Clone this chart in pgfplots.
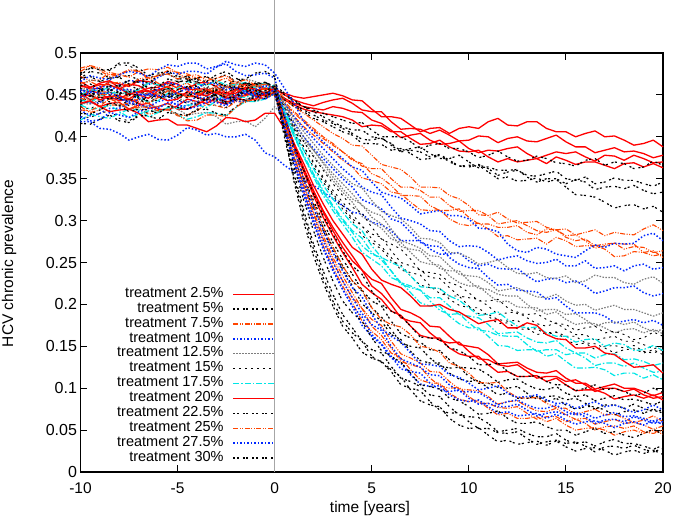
\documentclass[border=0pt]{standalone}
\usepackage{pgfplots}
\usepackage{pgfplotstable}
\usepackage{fontspec}
\setmainfont{Liberation Sans}
\pgfplotsset{compat=1.18}
\definecolor{cred}{RGB}{255,0,0}
\definecolor{corange}{RGB}{255,69,0}
\definecolor{cblue}{RGB}{0,40,255}
\definecolor{cgray}{RGB}{125,125,125}
\definecolor{ccyan}{RGB}{0,230,230}

\pgfplotstableread{
t a b c d
-10 448 462 440 452
-9.5 455 457 442 444
-9 452 458 436 447
-8.5 445 466 440 448
-8 446 463 441 443
-7.5 451 460 433 445
-7 450 467 438 440
-6.5 446 466 440 434
-6 455 461 433 436
-5.5 457 464 432 440
-5 451 458 437 433
-4.5 451 457 445 433
-4 447 464 442 438
-3.5 444 465 440 445
-3 452 460 446 442
-2.5 460 452 442 439
-2 456 457 443 447
-1.5 451 463 451 443
-1 453 462 449 445
-0.5 458 458 445 451
0 455 458 452 450
0.5 452 450 446 444
1 448 444 440 438
1.5 446 440 436 433
2 448 437 434 430
2.5 450 441 432 428
3 452 444 436 426
3.5 449 446 434 424
4 444 440 430 420
4.5 443 432 429 412
5 433 430 420 414
5.5 424 430 416 413
6 424 418 408 406
6.5 422 409 399 406
7 414 410 402 398
7.5 406 409 404 391
8 410 404 396 392
8.5 411 408 391 396
9 404 402 392 388
9.5 410 395 395 383
10 412 396 386 382
10.5 410 401 381 384
11 418 400 384 376
11.5 422 393 383 370
12 414 398 386 374
12.5 413 400 388 370
13 418 395 380 372
13.5 418 394 374 374
14 410 398 378 368
14.5 406 402 382 376
15 406 394 380 372
15.5 400 388 382 367
16 404 388 376 370
16.5 407 381 371 370
17 400 384 378 366
17.5 401 387 377 362
18 396 382 372 368
18.5 390 383 378 369
19 392 380 374 364
19.5 396 375 369 368
20 388 378 370 363
}\tA
\pgfplotstableread{
t a b c d
-10 470 445 438 458
-9.5 478 444 444 451
-9 476 450 442 454
-8.5 470 454 446 460
-8 472 447 446 460
-7.5 473 444 437 462
-7 468 452 441 456
-6.5 464 456 449 449
-6 473 456 448 451
-5.5 475 457 447 455
-5 469 449 452 447
-4.5 469 447 459 447
-4 465 453 455 452
-3.5 462 458 448 455
-3 470 457 450 449
-2.5 474 448 452 447
-2 466 451 458 455
-1.5 461 457 464 450
-1 463 455 461 451
-0.5 465 453 456 456
0 460 456 462 454
0.5 450 446 452 444
1 442 438 444 436
1.5 436 432 436 430
2 432 426 430 422
2.5 428 420 424 418
3 424 416 418 412
3.5 420 410 412 406
4 416 404 408 402
4.5 417 397 408 392
5 408 396 400 392
5.5 400 399 398 391
6 400 390 392 384
6.5 400 382 383 386
7 394 384 386 380
7.5 386 382 388 373
8 390 376 380 374
8.5 392 379 374 378
9 386 372 374 370
9.5 386 365 378 365
10 382 366 370 364
10.5 375 367 363 366
11 378 362 364 358
11.5 383 354 360 350
12 376 358 360 352
12.5 371 360 361 347
13 372 354 352 348
13.5 377 353 346 351
14 374 356 350 346
14.5 369 359 350 349
15 368 350 344 340
15.5 365 348 349 331
16 372 352 346 330
16.5 374 344 337 328
17 366 346 340 322
17.5 370 351 341 315
18 368 348 338 318
18.5 362 348 342 319
19 364 344 336 314
19.5 371 341 332 317
20 366 346 334 310
}\tB
\pgfplotstableread{
t a b c d
-10 478 472 450 436
-9.5 485 467 456 429
-9 482 468 454 432
-8.5 474 477 453 438
-8 475 474 449 438
-7.5 480 471 441 440
-7 479 478 445 434
-6.5 470 481 453 427
-6 473 480 451 429
-5.5 479 483 450 433
-5 477 476 456 425
-4.5 475 469 460 426
-4 470 471 452 431
-3.5 463 471 451 439
-3 466 466 458 437
-2.5 470 458 454 434
-2 462 463 454 442
-1.5 458 464 461 441
-1 460 457 459 447
-0.5 463 452 452 452
0 458 452 456 450
0.5 446 440 442 436
1 436 428 430 424
1.5 428 418 420 412
2 420 408 410 402
2.5 412 398 400 392
3 404 390 392 382
3.5 398 382 382 372
4 390 374 372 364
4.5 389 365 368 351
5 378 362 356 348
5.5 367 362 351 344
6 364 350 342 334
6.5 361 340 330 332
7 352 340 330 322
7.5 340 336 329 313
8 340 328 318 312
8.5 339 328 312 313
9 330 318 312 302
9.5 326 311 314 296
10 318 312 304 294
10.5 307 312 296 297
11 306 306 296 290
11.5 310 296 292 281
12 302 298 292 282
12.5 297 300 294 277
13 298 294 286 278
13.5 299 288 283 279
14 292 286 290 272
14.5 289 289 289 280
15 290 280 282 276
15.5 283 276 283 269
16 286 278 276 270
16.5 289 270 267 270
17 282 272 270 266
17.5 286 273 273 257
18 284 266 272 258
18.5 283 269 272 263
19 290 268 262 262
19.5 295 262 258 264
20 288 264 260 256
}\tC
\pgfplotstableread{
t a b c d
-10 452 446 418 432
-9.5 459 440 418 425
-9 457 441 410 428
-8.5 455 449 409 434
-8 462 445 404 434
-7.5 467 442 396 440
-7 466 450 400 438
-6.5 462 450 403 436
-6 471 447 397 442
-5.5 477 449 396 445
-5 475 442 402 437
-4.5 478 441 411 437
-4 478 448 408 441
-3.5 475 453 402 448
-3 483 452 404 446
-2.5 490 444 400 439
-2 486 449 400 443
-1.5 484 455 403 442
-1 488 453 396 448
-0.5 486 452 381 453
0 476 456 376 450
0.5 458 440 366 432
1 440 424 358 416
1.5 418 410 350 400
2 406 398 342 386
2.5 394 386 334 374
3 384 374 326 362
3.5 374 362 318 350
4 364 352 310 340
4.5 360 340 308 325
5 346 334 298 320
5.5 334 331 295 314
6 330 316 288 302
6.5 327 303 276 298
7 318 300 276 286
7.5 308 296 276 274
8 310 288 266 270
8.5 312 287 260 269
9 306 276 260 256
9.5 306 269 262 248
10 302 270 252 244
10.5 291 269 246 243
11 290 262 248 232
11.5 287 253 243 223
12 272 256 242 224
12.5 264 258 243 217
13 262 252 234 216
13.5 268 249 227 215
14 266 250 230 206
14.5 260 254 231 208
15 258 246 226 198
15.5 256 246 228 190
16 264 252 222 190
16.5 271 243 213 190
17 268 244 216 186
17.5 273 246 220 178
18 272 240 220 180
18.5 273 246 222 182
19 282 248 214 178
19.5 285 242 210 181
20 276 244 213 175
}\tD
\pgfplotstableread{
t a b c d
-10 456 440 462 448
-9.5 459 439 468 445
-9 452 444 466 452
-8.5 450 447 465 453
-8 457 439 461 449
-7.5 462 432 453 456
-7 461 435 457 455
-6.5 452 437 465 449
-6 455 436 463 451
-5.5 456 439 462 454
-5 450 433 468 446
-4.5 450 426 472 442
-4 446 428 464 442
-3.5 443 429 457 449
-3 451 424 459 447
-2.5 459 415 459 440
-2 455 418 463 444
-1.5 454 419 469 443
-1 459 412 466 449
-0.5 462 422 458 454
0 458 436 460 452
0.5 440 424 438 432
1 422 410 418 412
1.5 406 396 400 394
2 392 384 384 378
2.5 378 370 368 362
3 366 356 352 348
3.5 354 344 338 334
4 344 332 326 322
4.5 339 318 319 305
5 324 310 304 298
5.5 311 306 296 291
6 306 290 284 278
6.5 302 276 269 274
7 292 272 266 262
7.5 279 267 264 251
8 278 258 252 248
8.5 274 257 243 247
9 262 246 240 234
9.5 261 236 240 226
10 256 234 228 222
10.5 248 233 219 222
11 250 226 218 212
11.5 253 216 212 203
12 244 218 210 204
12.5 237 220 210 197
13 236 214 200 196
13.5 238 209 192 196
14 232 208 194 188
14.5 231 212 194 191
15 234 204 188 182
15.5 226 199 189 176
16 228 200 182 178
16.5 235 193 174 177
17 232 196 178 172
17.5 232 199 179 166
18 226 194 176 170
18.5 224 194 179 171
19 230 190 172 166
19.5 233 186 168 170
20 225 190 170 165
}\tE
\pgfplotstableread{
t a b c d
-10 476 424 455 436
-9.5 483 423 456 433
-9 480 428 450 441
-8.5 479 431 450 442
-8 486 422 446 437
-7.5 485 419 442 444
-7 478 426 451 443
-6.5 470 430 454 441
-6 474 431 447 448
-5.5 476 434 446 452
-5 470 427 452 444
-4.5 470 426 460 440
-4 466 433 457 440
-3.5 459 438 451 447
-3 462 438 453 445
-2.5 466 435 453 442
-2 458 444 458 450
-1.5 457 450 461 445
-1 462 449 455 446
-0.5 464 449 452 452
0 458 454 460 450
0.5 436 430 434 426
1 414 408 410 404
1.5 394 388 388 384
2 376 370 368 364
2.5 360 352 350 346
3 344 336 332 330
3.5 330 322 318 314
4 316 308 302 300
4.5 309 293 294 282
5 292 284 278 274
5.5 278 280 269 266
6 272 264 256 252
6.5 266 250 241 247
7 254 246 238 234
7.5 240 241 235 223
8 238 232 222 220
8.5 236 231 213 219
9 226 220 210 206
9.5 222 210 210 199
10 214 208 198 196
10.5 204 206 189 196
11 204 198 188 186
11.5 206 188 182 177
12 196 190 180 178
12.5 189 191 181 171
13 188 184 172 170
13.5 189 177 164 171
14 182 174 166 164
14.5 177 178 167 167
15 176 170 162 158
15.5 169 164 162 152
16 172 164 154 154
16.5 174 157 146 153
17 166 160 150 148
17.5 168 162 151 142
18 164 156 148 146
18.5 158 156 151 147
19 160 152 144 142
19.5 167 147 142 146
20 162 150 146 140
}\tF
\pgfplotstableread{
t a b c d
-10 420 438 450 444
-9.5 427 433 456 441
-9 424 434 455 448
-8.5 422 438 459 453
-8 428 430 460 452
-7.5 433 423 452 453
-7 432 427 456 447
-6.5 424 431 464 441
-6 429 431 462 443
-5.5 435 433 457 452
-5 434 426 458 449
-4.5 438 421 466 449
-4 438 424 463 454
-3.5 435 429 461 457
-3 443 428 467 451
-2.5 451 425 462 448
-2 448 435 462 456
-1.5 447 442 465 455
-1 452 442 458 461
-0.5 459 445 452 464
0 458 452 456 460
0.5 432 426 428 430
1 406 400 402 402
1.5 384 376 378 376
2 362 354 356 352
2.5 342 334 336 330
3 326 316 318 312
3.5 310 300 302 296
4 296 286 288 280
4.5 288 270 279 262
5 270 260 262 254
5.5 256 256 253 246
6 250 240 240 232
6.5 245 226 224 227
7 234 222 220 214
7.5 221 217 217 202
8 220 208 204 198
8.5 219 208 193 198
9 210 198 188 186
9.5 205 188 189 177
10 196 186 178 172
10.5 187 184 169 172
11 188 176 168 162
11.5 191 165 163 151
12 182 166 162 150
12.5 174 167 162 145
13 172 160 152 146
13.5 173 155 144 146
14 166 154 146 138
14.5 162 157 146 141
15 162 148 140 132
15.5 155 142 142 124
16 158 142 136 124
16.5 159 136 127 125
17 150 140 130 122
17.5 154 141 130 115
18 152 134 126 118
18.5 145 135 130 118
19 146 132 124 112
19.5 151 127 119 116
20 145 130 120 110
}\tG
\pgfplotstableread{
t a b c d
-10 440 460 448 466
-9.5 443 459 450 459
-9 436 464 444 462
-8.5 430 467 448 462
-8 432 458 449 457
-7.5 433 451 445 463
-7 428 454 453 461
-6.5 418 458 455 454
-6 420 459 448 456
-5.5 421 466 443 460
-5 414 463 445 452
-4.5 414 456 454 448
-4 410 457 451 448
-3.5 406 457 449 455
-3 413 452 455 453
-2.5 423 448 451 446
-2 422 456 452 449
-1.5 418 457 459 449
-1 420 450 457 455
-0.5 428 449 452 458
0 428 452 458 454
0.5 410 420 424 420
1 392 390 392 388
1.5 368 362 362 358
2 342 336 334 330
2.5 320 312 310 304
3 300 292 288 282
3.5 284 274 268 262
4 268 258 252 244
4.5 260 241 241 224
5 242 230 222 214
5.5 229 225 213 206
6 224 208 200 192
6.5 220 194 184 187
7 210 190 180 174
7.5 198 184 178 163
8 198 174 166 160
8.5 200 173 157 160
9 194 162 154 148
9.5 191 152 155 141
10 184 150 144 138
10.5 177 148 135 138
11 180 140 134 128
11.5 182 129 128 119
12 172 130 126 120
12.5 172 131 128 114
13 178 124 120 114
13.5 175 119 112 115
14 164 118 114 108
14.5 159 121 114 112
15 158 112 108 104
15.5 148 106 110 97
16 148 106 104 98
16.5 150 99 96 98
17 142 102 100 94
17.5 140 105 100 87
18 132 100 96 90
18.5 125 100 99 92
19 126 96 92 88
19.5 128 91 88 92
20 118 95 90 86
}\tH
\pgfplotstableread{
t a b c d
-10 442 416 470 451
-9.5 449 415 472 448
-9 447 421 466 455
-8.5 445 426 470 456
-8 451 419 471 452
-7.5 451 417 463 454
-7 446 425 467 448
-6.5 443 425 469 442
-6 452 421 462 444
-5.5 458 429 460 452
-5 456 427 465 449
-4.5 460 425 468 449
-4 460 432 460 453
-3.5 452 433 454 455
-3 455 428 456 448
-2.5 462 426 456 441
-2 458 436 461 445
-1.5 457 443 464 444
-1 462 443 457 449
-0.5 465 446 452 453
0 460 454 458 450
0.5 424 418 420 412
1 390 384 384 376
1.5 360 352 350 344
2 332 324 320 314
2.5 306 298 292 288
3 284 274 268 264
3.5 264 254 246 242
4 246 236 228 222
4.5 236 217 216 201
5 216 204 196 190
5.5 200 198 185 180
6 192 180 170 164
6.5 186 165 154 158
7 174 160 150 144
7.5 161 155 148 133
8 160 146 136 130
8.5 158 145 127 130
9 148 134 124 118
9.5 145 125 125 111
10 138 124 114 108
10.5 128 123 106 109
11 128 116 106 100
11.5 130 107 101 92
12 120 110 100 94
12.5 114 111 102 88
13 114 104 94 88
13.5 115 99 87 90
14 108 98 90 84
14.5 104 102 91 88
15 104 94 86 80
15.5 97 90 88 75
16 100 92 82 78
16.5 104 85 75 78
17 98 88 80 74
17.5 100 91 80 68
18 96 86 76 72
18.5 91 87 81 74
19 94 84 76 70
19.5 100 80 72 75
20 95 85 74 70
}\tI
\pgfplotstableread{
t a b c d
-10 482 432 464 446
-9.5 485 431 466 443
-9 479 437 460 450
-8.5 472 445 464 451
-8 474 441 465 446
-7.5 479 433 461 448
-7 478 436 469 442
-6.5 469 435 471 440
-6 473 431 464 447
-5.5 475 433 459 455
-5 469 426 460 452
-4.5 473 419 464 448
-4 474 420 456 449
-3.5 467 426 454 456
-3 470 426 461 454
-2.5 473 424 461 447
-2 465 435 465 450
-1.5 460 443 468 449
-1 461 444 462 455
-0.5 463 447 456 457
0 458 454 460 452
0.5 420 414 418 410
1 384 376 378 370
1.5 350 342 342 334
2 320 310 308 300
2.5 292 282 278 270
3 268 256 252 244
3.5 246 234 228 222
4 228 214 208 202
4.5 217 195 195 180
5 196 182 174 168
5.5 182 175 163 158
6 176 156 148 142
6.5 173 141 132 136
7 164 136 128 122
7.5 150 130 125 110
8 148 120 112 106
8.5 143 119 103 106
9 130 108 100 94
9.5 126 99 101 87
10 118 98 90 84
10.5 107 97 82 85
11 106 90 82 76
11.5 107 81 77 68
12 96 84 76 70
12.5 89 85 78 64
13 88 78 70 64
13.5 89 73 63 66
14 82 72 66 60
14.5 77 76 66 64
15 76 68 60 56
15.5 69 63 63 50
16 72 64 58 52
16.5 75 57 50 53
17 68 60 54 50
17.5 69 63 55 44
18 64 58 52 48
18.5 59 59 55 50
19 62 56 48 46
19.5 67 51 46 50
20 60 55 50 45
}\tJ
\pgfplotstableread{
t a b c d
-10 466 424 447 456
-9.5 473 419 453 453
-9 470 420 452 460
-8.5 468 429 452 460
-8 474 426 448 455
-7.5 478 423 440 457
-7 476 430 444 451
-6.5 472 434 451 450
-6 480 434 449 457
-5.5 486 441 448 465
-5 484 439 453 462
-4.5 488 433 457 458
-4 488 436 449 458
-3.5 481 441 443 465
-3 484 441 445 463
-2.5 487 437 445 456
-2 478 446 450 459
-1.5 473 452 454 454
-1 474 451 448 456
-0.5 476 451 445 461
0 470 456 452 458
0.5 426 414 408 412
1 386 374 368 370
1.5 348 338 330 332
2 316 304 296 298
2.5 288 276 266 268
3 262 250 240 242
3.5 240 228 218 218
4 220 208 198 198
4.5 209 189 185 175
5 188 176 164 162
5.5 171 169 153 152
6 162 150 138 136
6.5 155 135 123 130
7 142 130 120 116
7.5 129 125 118 105
8 128 116 106 102
8.5 126 115 98 103
9 116 104 96 92
9.5 113 96 98 86
10 106 96 88 84
10.5 98 95 81 86
11 100 88 82 78
11.5 103 80 78 70
12 94 84 78 72
12.5 89 86 81 67
13 90 80 74 68
13.5 92 76 67 70
14 86 76 70 64
14.5 82 80 72 69
15 82 72 68 62
15.5 76 68 71 57
16 80 70 66 60
16.5 84 64 58 61
17 78 68 62 58
17.5 80 71 63 53
18 76 66 60 58
18.5 71 67 66 60
19 74 64 62 56
19.5 80 60 58 61
20 74 65 60 57
}\tK
\pgfplotstableread{
t a b c d
-10 474 428 461 452
-9.5 482 427 463 449
-9 480 432 457 456
-8.5 480 440 457 461
-8 488 437 453 461
-7.5 488 430 449 467
-7 482 433 458 465
-6.5 473 432 461 458
-6 476 428 454 460
-5.5 478 436 448 469
-5 472 435 449 466
-4.5 472 433 453 466
-4 468 440 446 470
-3.5 466 445 444 472
-3 474 444 451 464
-2.5 478 440 447 461
-2 470 449 447 468
-1.5 464 456 454 469
-1 464 455 452 476
-0.5 465 455 448 478
0 458 460 454 472
0.5 410 406 400 406
1 364 356 350 346
1.5 324 312 306 298
2 288 272 266 258
2.5 256 240 232 226
3 228 212 204 198
3.5 204 188 180 174
4 190 172 166 160
4.5 180 156 156 143
5 160 146 138 136
5.5 145 142 131 132
6 138 126 120 122
6.5 131 112 104 114
7 118 108 100 98
7.5 104 102 97 85
8 102 92 84 80
8.5 99 90 74 78
9 88 78 70 64
9.5 85 68 71 56
10 78 66 60 52
10.5 69 65 52 53
11 70 58 52 44
11.5 73 48 47 36
12 64 50 46 38
12.5 58 52 48 33
13 58 46 40 35
13.5 60 42 33 37
14 54 42 36 32
14.5 50 46 38 37
15 50 38 34 30
15.5 44 34 36 25
16 48 36 31 28
16.5 52 31 24 29
17 46 36 30 26
17.5 48 39 31 20
18 44 34 28 24
18.5 41 34 32 26
19 46 31 27 22
19.5 51 27 24 26
20 45 32 28 21
}\tL

\pgfplotsset{
  sA/.style={cred, line width=1.3pt},
  sB/.style={black, line width=1.2pt, dash pattern=on 2pt off 1.5pt on 2pt off 4pt},
  sC/.style={corange, line width=1.1pt, dash pattern=on 5pt off 1.5pt on 1pt off 1.5pt on 1pt off 1.5pt},
  sD/.style={cblue, line width=1.5pt, dash pattern=on 1.5pt off 2pt},
  sE/.style={cgray, line width=1.2pt, dash pattern=on 1.5pt off 1.5pt},
  sF/.style={black, line width=0.9pt, dash pattern=on 2pt off 4pt},
  sG/.style={ccyan, line width=1.2pt, dash pattern=on 6pt off 2pt on 1.5pt off 2pt},
  sH/.style={cred, line width=1.3pt},
}
\newcommand\grp[3]{%
  \addplot[#2] table[x=t, y expr=\thisrow{a}/1000] {#1};
  \addlegendentry{#3}
  \addplot[#2, forget plot] table[x=t, y expr=\thisrow{b}/1000] {#1};
  \addplot[#2, forget plot] table[x=t, y expr=\thisrow{c}/1000] {#1};
  \addplot[#2, forget plot] table[x=t, y expr=\thisrow{d}/1000] {#1};
}

\begin{document}
\begin{tikzpicture}
\path[use as bounding box] (-80.5pt,-48pt) rectangle (594.5pt,472pt);
\begin{axis}[
  at={(0pt,0pt)}, anchor=south west,
  scale only axis, width=582.5pt, height=419pt,
  xmin=-10, xmax=20, ymin=0, ymax=0.5,
  clip=false,
  no markers,
  every axis plot/.append style={line join=round},
  xtick={-10,-5,0,5,10,15,20},
  ytick={0,0.05,0.1,0.15,0.2,0.25,0.3,0.35,0.4,0.45,0.5},
  yticklabels={0,0.05,0.1,0.15,0.2,0.25,0.3,0.35,0.4,0.45,0.5},
  /pgf/number format/assume math mode=true,
  tick align=inside, tick pos=both,
  major tick length=7pt,
  every tick/.style={black, line width=0.9pt},
  axis line style={line width=1.1pt},
  yticklabel style={font=\fontsize{16}{16}\selectfont},
  xticklabel style={font=\fontsize{15.5}{15.5}\selectfont, yshift=-7pt},
  label style={font=\fontsize{15.5}{15.5}\selectfont},
  xlabel={time [years]},
  ylabel={HCV chronic prevalence},
  xlabel style={at={(axis description cs:0.497,-0.088)}, anchor=center},
  ylabel style={at={(axis description cs:-0.1227,0.4976)}, anchor=center},
  legend plot pos=right,
  legend cell align=right,
  legend image code/.code={\draw[#1] (0pt,0pt) -- (41pt,0pt);},
  legend style={draw=none, fill=none, at={(axis description cs:0.334,0.0155)},
    anchor=south east, inner sep=0pt, outer sep=0pt, row sep=0pt, column sep=9pt,
    font=\fontsize{14.5}{14.5}\selectfont,
    nodes={inner sep=0pt, text height=10.6pt, text depth=4.3pt}},
]
\addplot[forget plot, color=black!35, line width=1pt] coordinates {(0,0) (0,0.5632)};
\grp{\tA}{sA}{treatment 2.5\%}
\grp{\tB}{sB}{treatment 5\%}
\grp{\tC}{sC}{treatment 7.5\%}
\grp{\tD}{sD}{treatment 10\%}
\grp{\tE}{sE}{treatment 12.5\%}
\grp{\tF}{sF}{treatment 15\%}
\grp{\tG}{sG}{treatment 17.5\%}
\grp{\tH}{sH}{treatment 20\%}
\grp{\tI}{sB}{treatment 22.5\%}
\grp{\tJ}{sC}{treatment 25\%}
\grp{\tK}{sD}{treatment 27.5\%}
\grp{\tL}{sB}{treatment 30\%}
\end{axis}
\end{tikzpicture}
\end{document}
